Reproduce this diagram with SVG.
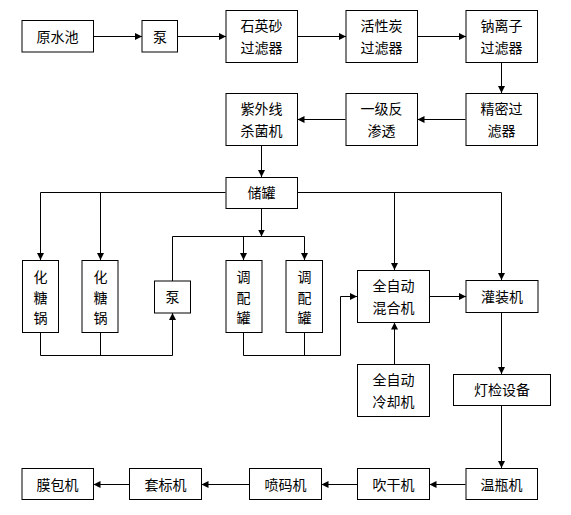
<svg xmlns="http://www.w3.org/2000/svg" width="571" height="515" viewBox="0 0 571 515">
<style>
.n rect{fill:#fff;stroke:#000;stroke-width:1}
.n text{font-family:"Noto Sans CJK SC","Noto Sans CJK JP",sans-serif;font-size:14px;fill:#000;text-anchor:middle}
#edges path{fill:none;stroke:#000;stroke-width:1}
.a{marker-end:url(#ah)}
</style>
<defs>
<marker id="ah" markerUnits="userSpaceOnUse" markerWidth="8" markerHeight="8" refX="7" refY="3.5" orient="auto">
<path d="M0,0 L7,3.5 L0,7 z" fill="#000"/>
</marker>
</defs>
<rect width="571" height="515" fill="#fff"/>
<g id="edges">
<path class="a" d="M93.5,36.5 H142"/>
<path class="a" d="M177.5,36.5 H226"/>
<path class="a" d="M297.5,36.5 H346"/>
<path class="a" d="M417.5,36.5 H466"/>
<path class="a" d="M501.5,62.5 V93"/>
<path class="a" d="M465.5,119.5 H417.5"/>
<path class="a" d="M345.5,119.5 H297.5"/>
<path class="a" d="M261.5,146 V177"/>
<path class="a" d="M225.5,192.5 H40.5 V260"/>
<path class="a" d="M100.5,192.5 V260"/>
<path class="a" d="M40.5,333 V355.5 H172.5 V313"/>
<path d="M100.5,333 V355.5"/>
<path class="a" d="M261.5,208.5 V236.5"/>
<path class="a" d="M172.5,281 V236.5 H304.5 V260"/>
<path class="a" d="M243.5,236.5 V260"/>
<path class="a" d="M243.5,333 V355.5 H340.5 V296.5 H357"/>
<path d="M304.5,333 V355.5"/>
<path class="a" d="M297.5,192.5 H501.5 V280"/>
<path class="a" d="M394.5,192.5 V270"/>
<path class="a" d="M429.5,296.5 H466"/>
<path class="a" d="M394.5,364 V322.5"/>
<path class="a" d="M501.5,312.5 V374"/>
<path class="a" d="M501.5,405.5 V468"/>
<path class="a" d="M465.5,484.5 H429.5"/>
<path class="a" d="M357.5,484.5 H321.5"/>
<path class="a" d="M249.5,484.5 H201.5"/>
<path class="a" d="M129.5,484.5 H93.5"/>
</g>
<g id="n1" class="n"><rect x="22" y="20.5" width="71.5" height="31.5"/><text x="57.5" y="41.5">原水池</text></g>
<g id="n2" class="n"><rect x="142" y="20.5" width="35.5" height="31.5"/><text x="160" y="41.5">泵</text></g>
<g id="n3" class="n"><rect x="226" y="10.5" width="71.5" height="52"/><text x="261.5" y="31">石英砂</text><text x="261.5" y="53">过滤器</text></g>
<g id="n4" class="n"><rect x="346" y="10.5" width="71.5" height="52"/><text x="381.5" y="31">活性炭</text><text x="381.5" y="53">过滤器</text></g>
<g id="n5" class="n"><rect x="466" y="10.5" width="71.5" height="52"/><text x="501.5" y="31">钠离子</text><text x="501.5" y="53">过滤器</text></g>
<g id="n6" class="n"><rect x="466" y="93.5" width="71.5" height="52"/><text x="501.5" y="114">精密过</text><text x="501.5" y="136">滤器</text></g>
<g id="n7" class="n"><rect x="346" y="93.5" width="71.5" height="52"/><text x="381.5" y="114">一级反</text><text x="381.5" y="136">渗透</text></g>
<g id="n8" class="n"><rect x="226" y="93.5" width="71.5" height="52"/><text x="261.5" y="114">紫外线</text><text x="261.5" y="136">杀菌机</text></g>
<g id="n9" class="n"><rect x="226" y="177.5" width="71.5" height="31"/><text x="261.5" y="198">储罐</text></g>
<g id="n10" class="n"><rect x="22.5" y="260.5" width="36" height="72"/><text x="40.5" y="282">化</text><text x="40.5" y="303">糖</text><text x="40.5" y="323">锅</text></g>
<g id="n11" class="n"><rect x="82" y="260.5" width="36" height="72"/><text x="100.5" y="282">化</text><text x="100.5" y="303">糖</text><text x="100.5" y="323">锅</text></g>
<g id="n12" class="n"><rect x="154.5" y="281" width="36" height="32"/><text x="172.5" y="302">泵</text></g>
<g id="n13" class="n"><rect x="226" y="260.5" width="36" height="72"/><text x="243.5" y="282">调</text><text x="243.5" y="303">配</text><text x="243.5" y="323">罐</text></g>
<g id="n14" class="n"><rect x="286" y="260.5" width="36.5" height="72"/><text x="304.5" y="282">调</text><text x="304.5" y="303">配</text><text x="304.5" y="323">罐</text></g>
<g id="n15" class="n"><rect x="357.5" y="270.5" width="72" height="52"/><text x="393.5" y="291">全自动</text><text x="393.5" y="313">混合机</text></g>
<g id="n16" class="n"><rect x="466" y="280.5" width="72" height="32"/><text x="502" y="301.5">灌装机</text></g>
<g id="n17" class="n"><rect x="357.5" y="364.5" width="72" height="52"/><text x="393.5" y="385">全自动</text><text x="393.5" y="407">冷却机</text></g>
<g id="n18" class="n"><rect x="453.5" y="374.5" width="97" height="31"/><text x="502" y="395">灯检设备</text></g>
<g id="n19" class="n"><rect x="466" y="468.5" width="71.5" height="31"/><text x="501.5" y="489.5">温瓶机</text></g>
<g id="n20" class="n"><rect x="357.5" y="468.5" width="72" height="31"/><text x="393.5" y="489.5">吹干机</text></g>
<g id="n21" class="n"><rect x="249.5" y="468.5" width="72" height="31"/><text x="285.5" y="489.5">喷码机</text></g>
<g id="n22" class="n"><rect x="129.5" y="468.5" width="72" height="31"/><text x="165.5" y="489.5">套标机</text></g>
<g id="n23" class="n"><rect x="22" y="468.5" width="71.5" height="31"/><text x="57.5" y="489.5">膜包机</text></g>
</svg>
